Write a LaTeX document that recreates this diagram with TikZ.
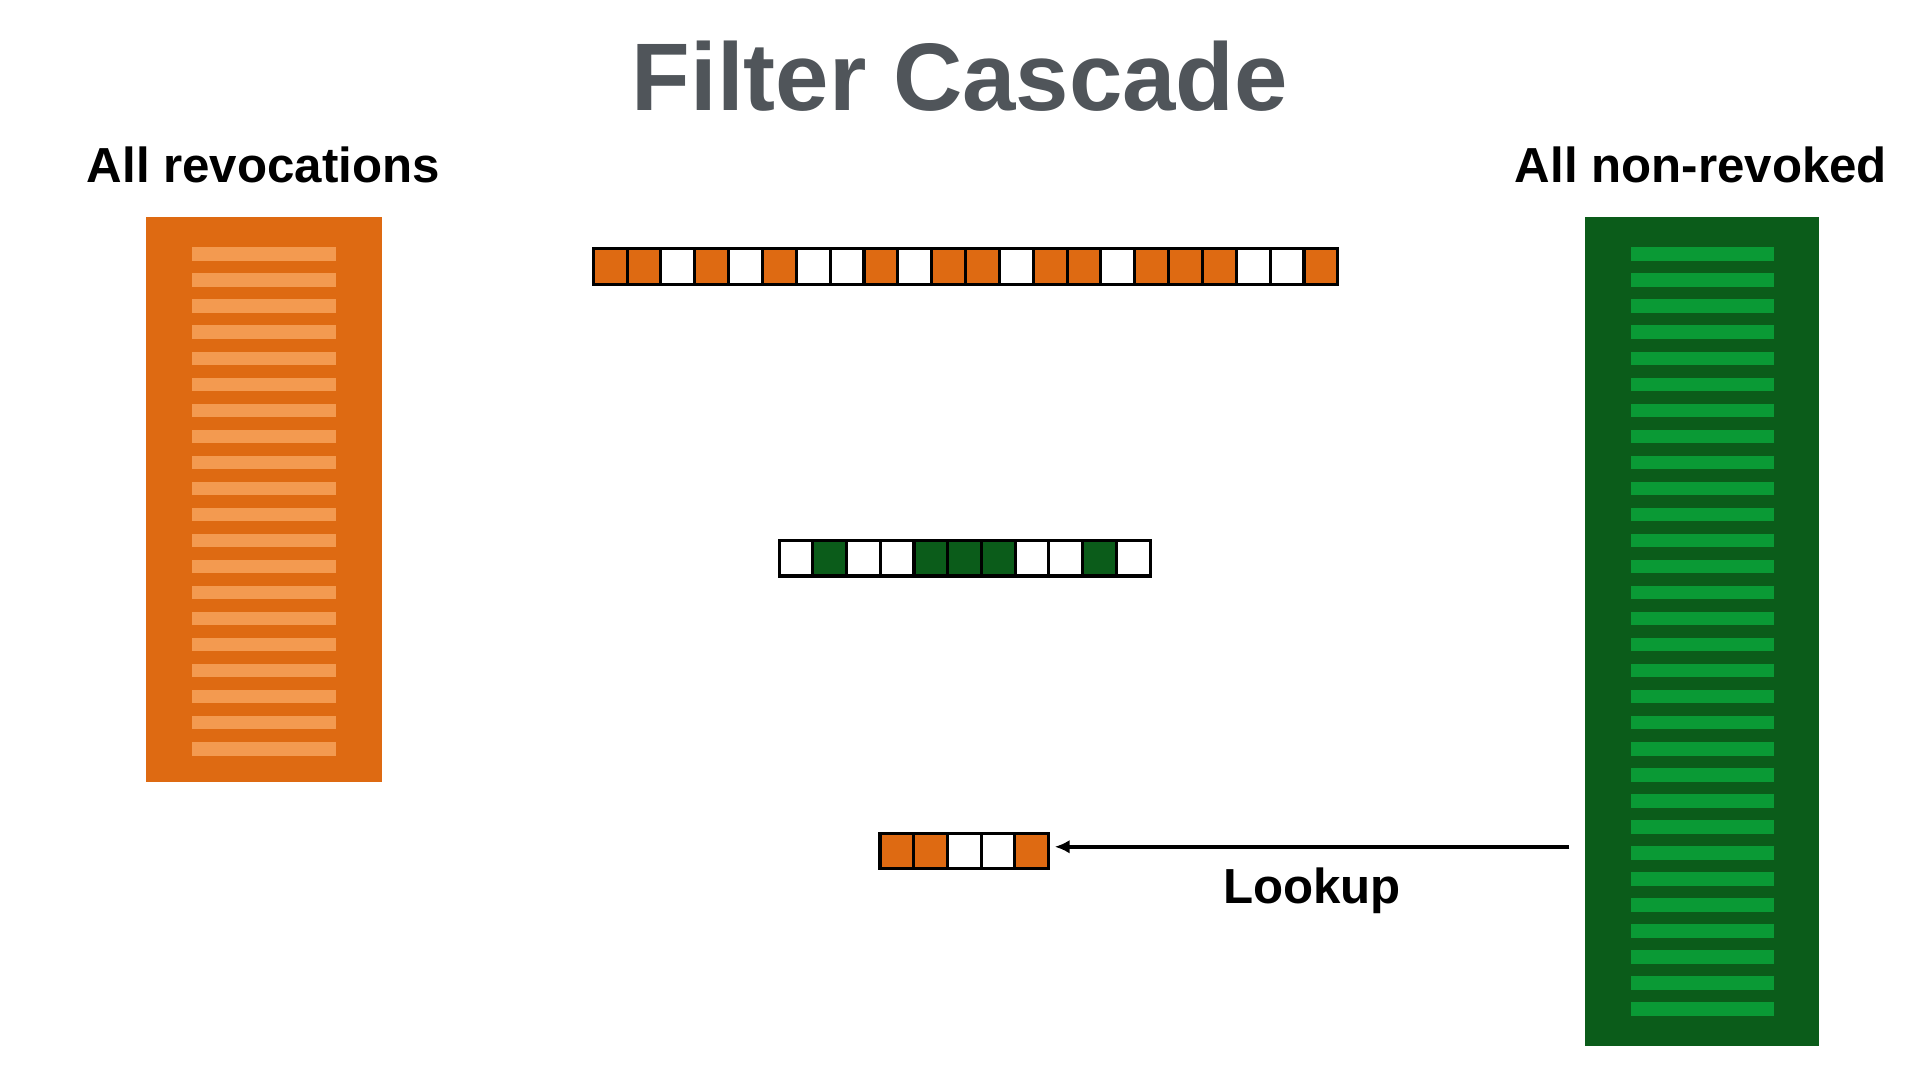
\documentclass[tikz,border=0pt]{standalone}
\usepackage{fontspec}
\setmainfont{Liberation Sans}
\usetikzlibrary{arrows.meta}
\begin{document}
\begin{tikzpicture}[x=1pt,y=-1pt,
  cell/.style={draw=black,line width=2.5pt},
  lbl/.style={font=\fontsize{40}{46}\selectfont\bfseries,inner sep=0pt}]
\definecolor{org}{HTML}{DE6A12}
\definecolor{lorg}{HTML}{F39A50}
\definecolor{dgr}{HTML}{0B5C1A}
\definecolor{lgr}{HTML}{0A9A35}
\definecolor{tgray}{HTML}{50555A}
\useasboundingbox (0,0) rectangle (1560,877.5);
\node[inner sep=0pt,text=tgray,font=\fontsize{78}{90}\selectfont\bfseries] (title) at (780,62) {Filter Cascade};
\node[lbl] (l1) at (214,134) {All revocations};
\node[lbl] (l2) at (1382,134) {All non-revoked};
\fill[org] (119,176) rectangle (310,635);
\foreach \i in {0,...,19} \fill[lorg] (156,{201+21.15*\i}) rectangle (273,{212+21.15*\i});
\fill[dgr] (1288,176) rectangle (1478,850);
\foreach \i in {0,...,29} \fill[lgr] (1325,{201+21.15*\i}) rectangle (1441,{212+21.15*\i});
\foreach \c [count=\i from 0] in {o,o,w,o,w,o,w,w,o,w,o,o,w,o,o,w,o,o,o,w,w,o}{
  \def\fc{white}\if\c o\def\fc{org}\fi
  \filldraw[cell,fill=\fc] ({482+27.5*\i},202) rectangle ({482+27.5*(\i+1)},231);}
\foreach \c [count=\i from 0] in {w,g,w,w,g,g,g,w,w,g,w}{
  \def\fc{white}\if\c g\def\fc{dgr}\fi
  \filldraw[cell,fill=\fc] ({633+27.4*\i},439) rectangle ({633+27.4*(\i+1)},468);}
\foreach \c [count=\i from 0] in {o,o,w,w,o}{
  \def\fc{white}\if\c o\def\fc{org}\fi
  \filldraw[cell,fill=\fc] ({715+27.4*\i},677) rectangle ({715+27.4*(\i+1)},706);}
\coordinate (bend) at (857,688);
\coordinate (astart) at (1275,688);
\draw[line width=3pt,-{Latex[length=12pt,width=11pt]}] (astart) -- (bend);
\node[lbl] (lk) at (1066,724) {Lookup};
\end{tikzpicture}
\end{document}
